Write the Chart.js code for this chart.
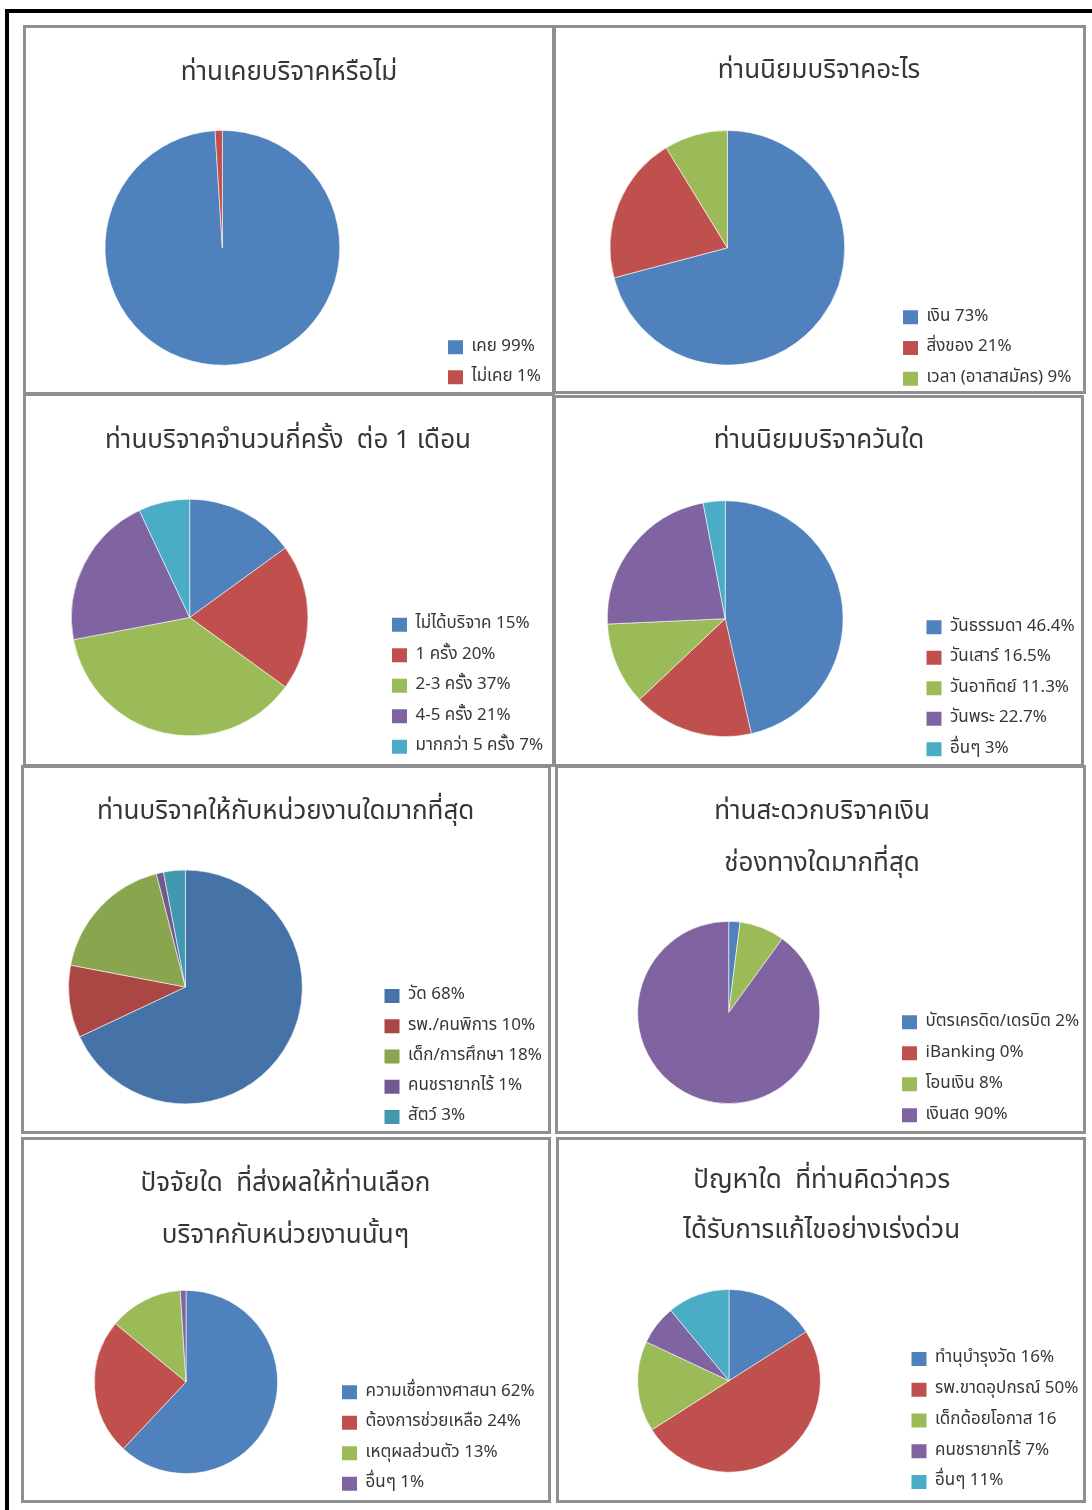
<!DOCTYPE html>
<html>
<head>
<meta charset="utf-8">
<script src="https://cdn.jsdelivr.net/npm/chart.js@4.4.1/dist/chart.umd.min.js"></script>
<style>
  html, body { margin: 0; padding: 0; background: #fff; }
  body { width: 1092px; height: 1510px; overflow: hidden; position: relative; }
  .frame { position: absolute; left: 5px; top: 9px; width: 1200px; height: 1600px;
           border-top: 4px solid #000; border-left: 4px solid #000; }
  .panel { position: absolute; box-sizing: border-box; border: 3px solid #8f8f8f; }
  canvas { position: absolute; }
</style>
</head>
<body>
<div class="frame"></div>
<script>
// ---------------- data ----------------
const q1Title = ['ท่านเคยบริจาคหรือไม่'];
const q1Categories = ['เคย', 'ไม่เคย'];
const q1Values = [99, 1];
const q1ValueLabels = ['99%', '1%'];

const q2Title = ['ท่านนิยมบริจาคอะไร'];
const q2Categories = ['เงิน', 'สิ่งของ', 'เวลา (อาสาสมัคร)'];
const q2Values = [73, 21, 9];
const q2ValueLabels = ['73%', '21%', '9%'];

const q3Title = ['ท่านบริจาคจำนวนกี่ครั้ง  ต่อ 1 เดือน'];
const q3Categories = ['ไม่ได้บริจาค', '1 ครั้ง', '2-3 ครั้ง', '4-5 ครั้ง', 'มากกว่า 5 ครั้ง'];
const q3Values = [15, 20, 37, 21, 7];
const q3ValueLabels = ['15%', '20%', '37%', '21%', '7%'];

const q4Title = ['ท่านนิยมบริจาควันใด'];
const q4Categories = ['วันธรรมดา', 'วันเสาร์', 'วันอาทิตย์', 'วันพระ', 'อื่นๆ'];
const q4Values = [46.4, 16.5, 11.3, 22.7, 3];
const q4ValueLabels = ['46.4%', '16.5%', '11.3%', '22.7%', '3%'];

const q5Title = ['ท่านบริจาคให้กับหน่วยงานใดมากที่สุด'];
const q5Categories = ['วัด', 'รพ./คนพิการ', 'เด็ก/การศึกษา', 'คนชรายากไร้', 'สัตว์'];
const q5Values = [68, 10, 18, 1, 3];
const q5ValueLabels = ['68%', '10%', '18%', '1%', '3%'];

const q6Title = ['ท่านสะดวกบริจาคเงิน', 'ช่องทางใดมากที่สุด'];
const q6Categories = ['บัตรเครดิต/เดรบิต', 'iBanking', 'โอนเงิน', 'เงินสด'];
const q6Values = [2, 0, 8, 90];
const q6ValueLabels = ['2%', '0%', '8%', '90%'];

const q7Title = ['ปัจจัยใด  ที่ส่งผลให้ท่านเลือก', 'บริจาคกับหน่วยงานนั้นๆ'];
const q7Categories = ['ความเชื่อทางศาสนา', 'ต้องการช่วยเหลือ', 'เหตุผลส่วนตัว', 'อื่นๆ'];
const q7Values = [62, 24, 13, 1];
const q7ValueLabels = ['62%', '24%', '13%', '1%'];

const q8Title = ['ปัญหาใด  ที่ท่านคิดว่าควร', 'ได้รับการแก้ไขอย่างเร่งด่วน'];
const q8Categories = ['ทำนุบำรุงวัด', 'รพ.ขาดอุปกรณ์', 'เด็กด้อยโอกาส', 'คนชรายากไร้', 'อื่นๆ'];
const q8Values = [16, 50, 16, 7, 11];
const q8ValueLabels = ['16%', '50%', '16', '7%', '11%'];

// ---------------- styles / layout ----------------
const officeColors = ['#4F81BD', '#C0504D', '#9BBB59', '#8064A2', '#4BACC6'];
const darkColors = ['#4572A7', '#AA4643', '#89A54E', '#71588F', '#4198AF'];
const FONT = "Tahoma, 'Noto Sans Thai', 'Noto Sans', 'DejaVu Sans', sans-serif";
const TEXT_COLOR = '#363636';
const TITLE_SIZE = 26;
const LEGEND_SIZE = 17;
const BOX_W = 15, BOX_H = 14;

// box: [left, top, right, bottom] of panel; c: pie centre; r: radius;
// t: title centre x / first line y; lh: title line height; l: legend box x / first box top; sp: legend row step
const layout = [
  {box: [23, 25, 555, 395],    c: [222.4, 247.8],  r: 117.8, t: [289, 74.5],    lh: 50,   l: [448, 340],   sp: 30},
  {box: [553, 25, 1086, 394],  c: [727.4, 247.8],  r: 117.7, t: [819, 73],      lh: 50,   l: [903, 310],   sp: 30.75},
  {box: [23, 393, 555, 767],   c: [189.7, 617.5],  r: 118.7, t: [288, 442.5],   lh: 50,   l: [392, 617.5], sp: 30.5},
  {box: [553, 395, 1084, 767], c: [725.2, 618.7],  r: 118.3, t: [819, 443],     lh: 50,   l: [926.5, 620], sp: 30.5},
  {box: [21, 765, 551, 1134],  c: [185.4, 987],    r: 117.3, t: [285.7, 813.5], lh: 50,   l: [384.5, 988.75], sp: 30.25},
  {box: [555, 765, 1086, 1134],c: [728.7, 1012.5], r: 91.5,  t: [822, 814],     lh: 51.5, l: [902, 1015],  sp: 31},
  {box: [21, 1137, 551, 1503], c: [186, 1382],     r: 92,    t: [285.5, 1186],  lh: 51.5, l: [342, 1385],  sp: 30.5},
  {box: [556, 1137, 1086, 1503],c: [729, 1380.8],  r: 91.8,  t: [821.7, 1182.5],lh: 50,   l: [911.5, 1351.75], sp: 30.75}
];

const q = (v) => Math.round(v * 4) / 4;

// plugin: places chart area (pie square), legend and title inside the canvas
const placePlugin = {
  id: 'place',
  afterLayout(chart, args, o) {
    const ca = chart.chartArea;
    const cx = o.cx - o.ox, cy = o.cy - o.oy, r = o.r;
    ca.left = cx - r; ca.right = cx + r; ca.top = cy - r; ca.bottom = cy + r;
    ca.width = 2 * r; ca.height = 2 * r;
    const lg = chart.legend;
    if (lg) {
      const lp = lg.options.labels.padding;
      const w = lg.width;
      const itemH = Math.max(LEGEND_SIZE, BOX_H);
      const firstTop = o.ly - o.oy - Math.max((LEGEND_SIZE - BOX_H) / 2, 0);
      lg.left = q(o.lx - o.ox - lp); lg.right = lg.left + w + 40;
      lg.bottom = q(firstTop + o.n * (itemH + lp)) + 0.25; lg.top = 0; lg.height = lg.bottom;
    }
    const t = chart.titleBlock;
    if (t) {
      const lh = o.lh;
      t.left = o.tx - o.ox - 270; t.right = t.left + 540; t.width = 540;
      t.top = o.ty - o.oy - lh / 2; t.bottom = t.top + t.height;
    }
  }
};

const baseLabels = Chart.overrides.doughnut.plugins.legend.labels.generateLabels;

function makePie(idx, title, categories, values, valueLabels, colors) {
  const g = layout[idx];
  const [x0, y0, x1, y1] = g.box;
  const panel = document.createElement('div');
  panel.className = 'panel';
  Object.assign(panel.style, {left: x0 + 'px', top: y0 + 'px', width: (x1 - x0) + 'px', height: (y1 - y0) + 'px'});
  document.body.appendChild(panel);
  const canvas = document.createElement('canvas');
  canvas.width = x1 - x0; canvas.height = y1 - y0;
  Object.assign(canvas.style, {left: x0 + 'px', top: y0 + 'px'});
  document.body.appendChild(canvas);
  const itemH = Math.max(LEGEND_SIZE, BOX_H);
  new Chart(canvas, {
    type: 'pie',
    data: {
      labels: categories.map((c, k) => c + ' ' + valueLabels[k]),
      datasets: [{
        data: values,
        backgroundColor: colors.slice(0, values.length),
        borderColor: 'rgba(255,255,255,0.7)',
        borderWidth: 0.8
      }]
    },
    options: {
      responsive: false,
      animation: false,
      events: [],
      plugins: {
        title: {
          display: true, text: title, color: TEXT_COLOR, padding: 0,
          font: {family: FONT, size: TITLE_SIZE, weight: 'normal', lineHeight: g.lh / TITLE_SIZE}
        },
        legend: {
          display: true, position: 'right', align: 'end',
          labels: {
            boxWidth: BOX_W, boxHeight: BOX_H, padding: g.sp - itemH, color: TEXT_COLOR,
            font: {family: FONT, size: LEGEND_SIZE},
            generateLabels: (chart) => baseLabels(chart).map(it => Object.assign(it, {lineWidth: 0}))
          }
        },
        tooltip: {enabled: false},
        place: {ox: x0, oy: y0, cx: g.c[0], cy: g.c[1], r: g.r, tx: g.t[0], ty: g.t[1], lh: g.lh,
                lx: g.l[0], ly: g.l[1], sp: g.sp, n: values.length}
      }
    },
    plugins: [placePlugin]
  });
}

makePie(0, q1Title, q1Categories, q1Values, q1ValueLabels, officeColors);
makePie(1, q2Title, q2Categories, q2Values, q2ValueLabels, officeColors);
makePie(2, q3Title, q3Categories, q3Values, q3ValueLabels, officeColors);
makePie(3, q4Title, q4Categories, q4Values, q4ValueLabels, officeColors);
makePie(4, q5Title, q5Categories, q5Values, q5ValueLabels, darkColors);
makePie(5, q6Title, q6Categories, q6Values, q6ValueLabels, officeColors);
makePie(6, q7Title, q7Categories, q7Values, q7ValueLabels, officeColors);
makePie(7, q8Title, q8Categories, q8Values, q8ValueLabels, officeColors);
</script>
</body>
</html>
